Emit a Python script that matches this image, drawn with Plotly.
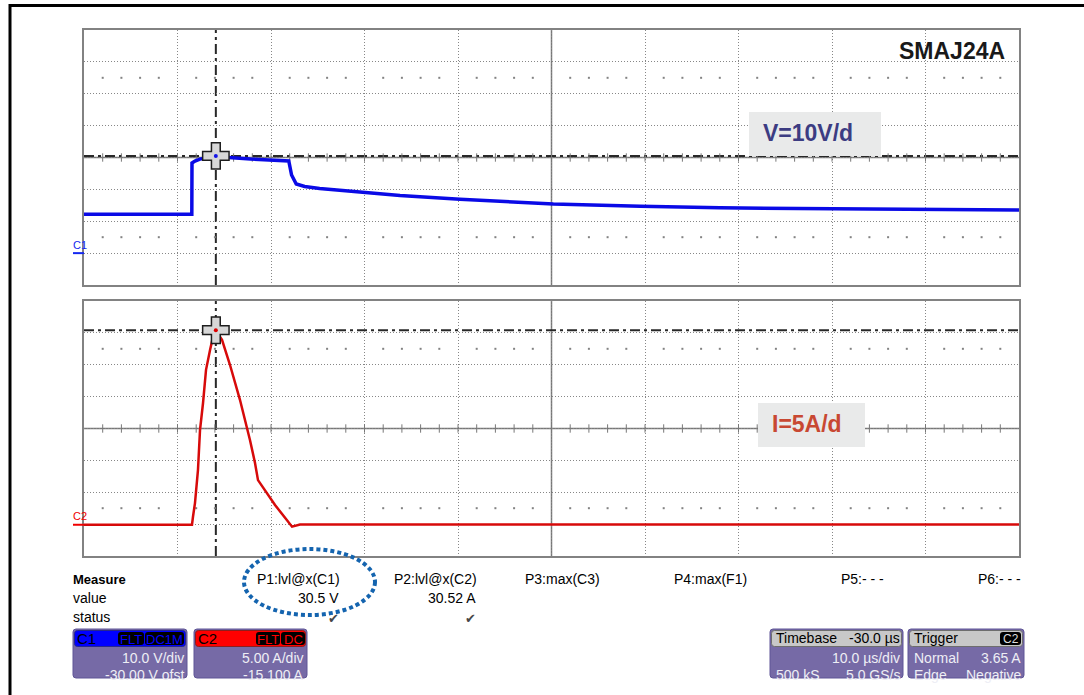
import plotly.graph_objects as go

W, H = 1084, 695
FONT = "Liberation Sans, Arial, sans-serif"

# ---------------- data ----------------
# C1 : voltage across SMAJ24A (V), time in microseconds (trigger at 0)
time_v = [-20, -8.47, -8.45, -8.13, -7.6, -5.9, -4.9, -2.2, 1.9, 2.2, 2.7, 3.6,
          5.2, 9.5, 13.8, 20.2, 30.2, 39.5, 48.0, 60.1, 70.0, 80.0]
volts = [12.2, 12.2, 28.3, 28.9, 29.5, 30.5, 30.1, 29.5, 28.9, 24.5, 21.7, 20.9,
         20.3, 19.3, 18.1, 16.9, 15.4, 14.7, 14.2, 13.9, 13.7, 13.5]

# C2 : current through the device (A)
time_i = [-20, -8.45, -8.34, -8.13, -7.81, -7.59, -7.27, -6.95, -6.52, -6.20, -5.9,
          -5.24, -4.39, -3.32, -2.25, -1.71, -1.39, -0.64, 0.43, 1.50, 2.25, 3.1, 80]
amps = [0.0, 0.0, 1.3, 3.4, 8.6, 14.9, 19.1, 24.3, 27.4, 29.5, 30.5,
        29.0, 25.1, 19.6, 13.3, 9.7, 7.0, 5.4, 3.1, 1.1, -0.3, 0.05, 0.05]

cursor_t = -5.9
cursor_v = 30.5
cursor_i = 30.52
trigger_t = 0.0
trigger_level = 3.65

# scope settings
t_range = [-20, 80]
v_range = [-10, 70]      # 10 V/div, -30 V offset
i_range = [-4.9, 35.1]   # 5 A/div, -15.1 A offset
v_center = 30.0
i_center = 15.1
t_center = 30.0

measure_heads = ["P1:lvl@x(C1)", "P2:lvl@x(C2)", "P3:max(C3)", "P4:max(F1)", "P5:- - -", "P6:- - -"]
measure_vals = ["30.5 V", "30.52 A"]

# ---------------- helpers ----------------
def X(px):
    return px / W

def Y(py):
    return 1 - py / H

shapes = []
anns = []

def txt(s, px, py, size=14, color="black", anchor="left", family=FONT):
    anns.append(dict(text=s, x=X(px), y=Y(py), xref="paper", yref="paper",
                     xanchor=anchor, yanchor="middle", showarrow=False, borderpad=0,
                     font=dict(size=size, color=color, family=family)))

def rrect(x0, y0, x1, y1, r, fill, line="rgba(0,0,0,0)", lw=0):
    p = (f"M {X(x0+r)},{Y(y0)} L {X(x1-r)},{Y(y0)} Q {X(x1)},{Y(y0)} {X(x1)},{Y(y0+r)} "
         f"L {X(x1)},{Y(y1-r)} Q {X(x1)},{Y(y1)} {X(x1-r)},{Y(y1)} "
         f"L {X(x0+r)},{Y(y1)} Q {X(x0)},{Y(y1)} {X(x0)},{Y(y1-r)} "
         f"L {X(x0)},{Y(y0+r)} Q {X(x0)},{Y(y0)} {X(x0+r)},{Y(y0)} Z")
    shapes.append(dict(type="path", path=p, xref="paper", yref="paper",
                       fillcolor=fill, line=dict(color=line, width=lw), layer="above"))

fig = go.Figure()

# ---------------- grid decorations ----------------
GRAY = "rgb(120,120,120)"
minor_t = [t_range[0] + 2 * k for k in range(1, 50)]
dot_t = [t for t in minor_t if t % 10 != 0]

for (yax, yr, yc) in [("y", v_range, v_center), ("y2", i_range, i_center)]:
    div = (yr[1] - yr[0]) / 8
    xax = "x" if yax == "y" else "x2"
    # center lines
    shapes.append(dict(type="line", xref=xax, yref=f"{yax} domain", x0=t_center, x1=t_center,
                       y0=0, y1=1, line=dict(color=GRAY, width=1.5), layer="below"))
    shapes.append(dict(type="line", xref=f"{xax} domain", yref=yax, x0=0, x1=1, y0=yc, y1=yc,
                       line=dict(color=GRAY, width=1.5), layer="below"))
    # ticks on horizontal center line
    fig.add_trace(go.Scatter(x=minor_t, y=[yc] * len(minor_t), mode="markers", yaxis=yax,
                             xaxis=xax, hoverinfo="skip",
                             marker=dict(symbol="line-ns", size=6, line=dict(color=GRAY, width=1))))
    # dot rows at 1.5 div from top and bottom
    for yy in [yr[1] - 1.5 * div, yr[0] + 1.5 * div]:
        fig.add_trace(go.Scatter(x=dot_t, y=[yy] * len(dot_t), mode="markers", yaxis=yax,
                                 xaxis=xax, hoverinfo="skip",
                                 marker=dict(symbol="square", size=2, color="rgb(130,130,130)")))

# cursors (dash-dot)
CUR = dict(color="rgb(40,40,40)", width=2, dash="10px,4px,3px,4px")
shapes.append(dict(type="line", xref="x domain", yref="y", x0=0, x1=1, y0=cursor_v, y1=cursor_v,
                   line=CUR, layer="below"))
shapes.append(dict(type="line", xref="x2 domain", yref="y2", x0=0, x1=1, y0=cursor_i, y1=cursor_i,
                   line=CUR, layer="below"))
shapes.append(dict(type="line", xref="x", yref="y domain", x0=cursor_t, x1=cursor_t, y0=0, y1=1,
                   line=CUR, layer="below"))
shapes.append(dict(type="line", xref="x2", yref="y2 domain", x0=cursor_t, x1=cursor_t, y0=0, y1=1,
                   line=CUR, layer="below"))

# ---------------- waveforms ----------------
fig.add_trace(go.Scatter(x=time_v, y=volts, mode="lines", xaxis="x", yaxis="y",
                         line=dict(color="rgb(10,10,230)", width=3.5)))
fig.add_trace(go.Scatter(x=time_i, y=amps, mode="lines", xaxis="x2", yaxis="y2",
                         line=dict(color="rgb(215,10,10)", width=2.5)))

# cursor cross markers
for (xa, ya, yv, c) in [("x", "y", cursor_v, "rgb(20,20,230)"), ("x2", "y2", cursor_i, "rgb(220,0,0)")]:
    fig.add_trace(go.Scatter(x=[cursor_t], y=[yv], mode="markers", xaxis=xa, yaxis=ya,
                             marker=dict(symbol="cross", size=22, color="rgb(215,215,215)",
                                         line=dict(color="rgb(30,30,30)", width=1.5))))
    fig.add_trace(go.Scatter(x=[cursor_t], y=[yv], mode="markers", xaxis=xa, yaxis=ya,
                             marker=dict(symbol="circle", size=4, color=c)))

# trigger markers
fig.add_trace(go.Scatter(x=[trigger_t], y=[v_range[0] - 1.6], mode="markers", xaxis="x", yaxis="y",
                         cliponaxis=False, marker=dict(symbol="triangle-up", size=9, color="rgb(20,40,240)")))
fig.add_trace(go.Scatter(x=[trigger_t], y=[i_range[0] - 0.95], mode="markers", xaxis="x2", yaxis="y2",
                         cliponaxis=False, marker=dict(symbol="triangle-up", size=9, color="rgb(240,0,0)")))
fig.add_trace(go.Scatter(x=[t_range[1] + 0.65], y=[trigger_level], mode="markers", xaxis="x2", yaxis="y2",
                         cliponaxis=False, marker=dict(symbol="triangle-left", size=9, color="rgb(240,0,0)")))

# ground markers
shapes.append(dict(type="line", xref="paper", yref="y", x0=X(73), x1=X(84), y0=0, y1=0,
                   line=dict(color="rgb(20,40,240)", width=2)))
shapes.append(dict(type="line", xref="paper", yref="y2", x0=X(73), x1=X(84), y0=0, y1=0,
                   line=dict(color="rgb(240,0,0)", width=2)))
txt("C1", 72, 245, size=11, color="rgb(20,40,240)")
txt("C2", 72, 516, size=11, color="rgb(240,0,0)")

# labels inside plots
txt("<b>SMAJ24A</b>", 1006, 51, size=23, color="rgb(25,25,25)", anchor="right")
shapes.append(dict(type="rect", xref="paper", yref="paper", x0=X(749), x1=X(881), y0=Y(156), y1=Y(112),
                   fillcolor="rgb(233,234,234)", line=dict(width=0), layer="above"))
txt("<b>V=10V/d</b>", 762, 133, size=23, color="rgb(60,60,130)")
shapes.append(dict(type="rect", xref="paper", yref="paper", x0=X(758), x1=X(865), y0=Y(447), y1=Y(403),
                   fillcolor="rgb(233,234,234)", line=dict(width=0), layer="above"))
txt("<b>I=5A/d</b>", 771, 424, size=23, color="rgb(200,72,50)")

# ---------------- measure table ----------------
txt("<b>Measure</b>", 72, 579, size=13)
txt("value", 72, 598, size=14)
txt("status", 72, 617, size=14)
head_x = [256, 393, 524, 673, 840, 977]
for s, hx in zip(measure_heads, head_x):
    txt(s, hx, 579, size=14)
txt(measure_vals[0], 340, 598, size=14, anchor="right")
txt(measure_vals[1], 477, 598, size=14, anchor="right")
txt("✔", 333, 618, size=13, color="rgb(70,70,70)", anchor="center", family="DejaVu Sans")
txt("✔", 470, 618, size=13, color="rgb(70,70,70)", anchor="center", family="DejaVu Sans")

# highlight ellipse
shapes.append(dict(type="circle", xref="paper", yref="paper", x0=X(244), x1=X(375), y0=Y(615), y1=Y(549),
                   line=dict(color="rgb(20,100,175)", width=4, dash="4px,3px"), layer="above"))

# ---------------- channel / timebase boxes ----------------
PURPLE = "rgb(118,106,166)"
BODY_TXT = "rgb(238,238,245)"

def box(x0, x1, head_fill, head_line):
    rrect(x0, 629, x1, 678, 3, PURPLE, "rgb(95,85,150)", 1)
    rrect(x0 + 1.5, 630.5, x1 - 1.5, 646.5, 3, head_fill, head_line, 1)

def badge(x0, x1, s, color):
    rrect(x0, 632, x1, 645, 3, "black")
    txt(s, (x0 + x1) / 2, 639, size=13, color=color, anchor="center")

box(73, 187, "rgb(0,0,255)", "rgb(40,40,140)")
txt("C1", 76, 638, size=15, color="black")
badge(118, 144, "FLT", "rgb(0,0,255)")
badge(145, 184, "DC1M", "rgb(0,0,255)")
txt("10.0 V/div", 185, 658, size=14, color=BODY_TXT, anchor="right")
txt("-30.00 V ofst", 185, 675, size=14, color=BODY_TXT, anchor="right")

box(194, 307, "rgb(255,0,0)", "rgb(140,30,30)")
txt("C2", 197, 638, size=15, color="black")
badge(256, 280, "FLT", "rgb(255,0,0)")
badge(281, 305, "DC", "rgb(255,0,0)")
txt("5.00 A/div", 305, 658, size=14, color=BODY_TXT, anchor="right")
txt("-15.100 A", 305, 675, size=14, color=BODY_TXT, anchor="right")

box(770, 903, "rgb(200,200,200)", "rgb(110,110,110)")
txt("Timebase", 775, 638, size=14)
txt("-30.0 µs", 901, 638, size=14, anchor="right")
txt("10.0 µs/div", 901, 658, size=14, color=BODY_TXT, anchor="right")
txt("500 kS", 775, 675, size=14, color=BODY_TXT)
txt("5.0 GS/s", 901, 675, size=14, color=BODY_TXT, anchor="right")

box(908, 1024, "rgb(200,200,200)", "rgb(110,110,110)")
txt("Trigger", 913, 638, size=14)
rrect(1000, 632, 1021, 645, 3, "black")
txt("C2", 1010.5, 639, size=12, color="rgb(220,220,220)", anchor="center")
txt("Normal", 913, 658, size=14, color=BODY_TXT)
txt("3.65 A", 1022, 658, size=14, color=BODY_TXT, anchor="right")
txt("Edge", 913, 675, size=14, color=BODY_TXT)
txt("Negative", 1022, 675, size=14, color=BODY_TXT, anchor="right")

# white strip below the scope screen
shapes.append(dict(type="rect", xref="paper", yref="paper", x0=X(12), x1=1, y0=0, y1=Y(679),
                   fillcolor="white", line=dict(width=0), layer="above"))

# outer black frame
shapes.append(dict(type="line", xref="paper", yref="paper", x0=X(9), x1=1, y0=Y(5.5), y1=Y(5.5),
                   line=dict(color="black", width=3)))
shapes.append(dict(type="line", xref="paper", yref="paper", x0=X(10), x1=X(10), y0=0, y1=Y(4),
                   line=dict(color="black", width=3)))

# ---------------- axes ----------------
grid = dict(showgrid=True, gridcolor="rgb(135,135,135)", gridwidth=1, griddash="1px,2px",
            zeroline=False, showticklabels=False, ticks="", showline=True, mirror=True,
            linecolor="rgb(130,130,130)", linewidth=2, fixedrange=True)

fig.update_layout(
    width=W, height=H, margin=dict(l=0, r=0, t=0, b=0),
    paper_bgcolor="white", plot_bgcolor="white", showlegend=False,
    xaxis=dict(domain=[X(84), X(1019)], range=t_range, tick0=-20, dtick=10, anchor="y", **grid),
    yaxis=dict(domain=[Y(285), Y(30)], range=v_range, tick0=-10, dtick=10, anchor="x", **grid),
    xaxis2=dict(domain=[X(84), X(1019)], range=t_range, tick0=-20, dtick=10, anchor="y2", **grid),
    yaxis2=dict(domain=[Y(556), Y(301)], range=i_range, tick0=-4.9, dtick=5, anchor="x2", **grid),
    shapes=shapes, annotations=anns,
)

fig.write_html("out.html", config={"displayModeBar": False},
               post_script="document.body.style.margin='0';document.body.style.overflow='hidden';")
